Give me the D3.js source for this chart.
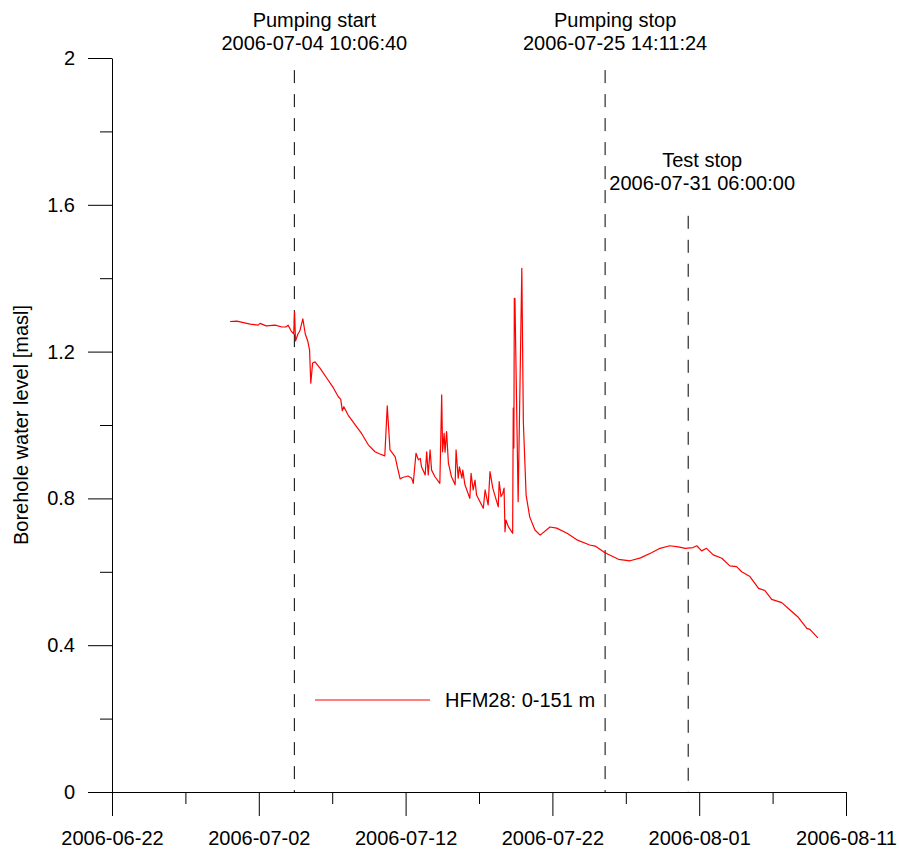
<!DOCTYPE html>
<html>
  <head>
    <title>HFM28 borehole water level</title>
    <script src="https://d3js.org/d3.v7.min.js" charset="utf-8"></script>
    <style type="text/css">
      body { margin: 0; background: #fff; }
      svg text { font-family: "Liberation Sans", Arial, sans-serif; font-size: 20px; fill: #000; }
    </style>
  </head>
  <body>
    <script type="text/javascript">

      var obsTime = [
        "2006-06-30 01:00","2006-06-30 12:00","2006-07-01 10:00","2006-07-01 23:00","2006-07-02 02:00",
        "2006-07-02 12:00","2006-07-03 02:30","2006-07-03 14:00","2006-07-03 20:00","2006-07-04 00:00",
        "2006-07-04 05:00","2006-07-04 09:00","2006-07-04 10:30","2006-07-04 12:00","2006-07-04 16:00",
        "2006-07-04 19:00","2006-07-05 00:00","2006-07-05 04:00","2006-07-05 08:00","2006-07-05 11:00",
        "2006-07-05 13:00","2006-07-05 16:00","2006-07-05 20:00","2006-07-06 04:00","2006-07-06 15:00",
        "2006-07-07 02:00","2006-07-07 10:00","2006-07-07 14:00","2006-07-07 16:30","2006-07-07 19:00",
        "2006-07-08 02:00","2006-07-08 16:00","2006-07-09 00:00","2006-07-09 11:00","2006-07-09 22:00",
        "2006-07-10 06:00","2006-07-10 14:00","2006-07-10 18:00","2006-07-10 22:30","2006-07-11 07:00",
        "2006-07-11 10:30","2006-07-11 15:00","2006-07-11 19:00","2006-07-12 04:00","2006-07-12 10:00",
        "2006-07-12 12:30","2006-07-12 17:00","2006-07-12 21:00","2006-07-13 00:00","2006-07-13 02:00",
        "2006-07-13 08:00","2006-07-13 10:30","2006-07-13 13:00","2006-07-13 16:00","2006-07-13 18:30",
        "2006-07-14 00:00","2006-07-14 08:00","2006-07-14 11:00","2006-07-14 12:30","2006-07-14 15:00",
        "2006-07-14 16:30","2006-07-14 19:00","2006-07-14 22:00","2006-07-15 03:00","2006-07-15 09:00",
        "2006-07-15 10:30","2006-07-15 14:00","2006-07-15 16:00","2006-07-15 20:00","2006-07-15 21:30",
        "2006-07-16 01:00","2006-07-16 09:00","2006-07-16 11:00","2006-07-16 14:30","2006-07-16 17:30",
        "2006-07-16 20:00","2006-07-17 07:00","2006-07-17 10:00","2006-07-17 15:00","2006-07-17 18:00",
        "2006-07-17 22:30","2006-07-18 07:30","2006-07-18 09:00","2006-07-18 12:00","2006-07-18 15:00",
        "2006-07-18 17:00","2006-07-18 18:30","2006-07-18 20:00","2006-07-19 00:00","2006-07-19 07:00",
        "2006-07-19 08:00","2006-07-19 09:00","2006-07-19 09:45","2006-07-19 10:45","2006-07-19 16:00",
        "2006-07-19 22:00","2006-07-20 00:30","2006-07-20 05:00","2006-07-20 11:00","2006-07-20 19:30",
        "2006-07-21 04:00","2006-07-21 20:00","2006-07-22 07:00","2006-07-23 00:00","2006-07-23 16:00",
        "2006-07-24 13:00","2006-07-24 22:00","2006-07-25 11:00","2006-07-25 19:00","2006-07-26 12:00",
        "2006-07-27 07:00","2006-07-28 00:00","2006-07-28 18:00","2006-07-29 08:00","2006-07-30 00:00",
        "2006-07-30 14:00","2006-07-31 01:00","2006-07-31 14:00","2006-07-31 20:00","2006-08-01 04:00",
        "2006-08-01 12:00","2006-08-01 23:00","2006-08-02 13:00","2006-08-03 02:00","2006-08-03 13:00",
        "2006-08-03 21:30","2006-08-04 11:00","2006-08-05 01:00","2006-08-05 11:30","2006-08-05 22:30",
        "2006-08-06 15:00","2006-08-07 04:30","2006-08-07 18:00","2006-08-08 08:00","2006-08-08 13:00",
        "2006-08-09 02:00"
      ];
      var obsLevel = [
        1.282,1.283,1.275,1.272,1.277,
        1.270,1.272,1.267,1.267,1.272,
        1.256,1.248,1.308,1.229,1.248,
        1.256,1.289,1.248,1.229,1.204,
        1.114,1.169,1.172,1.155,1.128,
        1.101,1.077,1.070,1.039,1.050,
        1.027,0.995,0.977,0.946,0.927,
        0.921,0.916,1.052,0.932,0.913,
        0.886,0.853,0.857,0.861,0.855,
        0.841,0.923,0.905,0.909,0.886,
        0.864,0.927,0.864,0.932,0.877,
        0.859,0.841,1.082,0.927,0.977,
        0.926,0.982,0.896,0.859,0.837,
        0.932,0.855,0.886,0.855,0.877,
        0.837,0.800,0.868,0.823,0.850,
        0.809,0.773,0.823,0.782,0.873,
        0.828,0.777,0.846,0.805,0.814,
        0.828,0.709,0.741,0.723,0.705,
        1.046,0.937,1.345,1.345,0.791,
        1.427,1.009,0.809,0.749,0.714,
        0.700,0.722,0.719,0.705,0.687,
        0.673,0.670,0.655,0.648,0.634,
        0.630,0.638,0.652,0.664,0.671,
        0.668,0.664,0.666,0.671,0.657,
        0.664,0.646,0.637,0.616,0.614,
        0.600,0.587,0.555,0.549,0.525,
        0.516,0.496,0.476,0.446,0.443,
        0.420
      ];

      // Events marked with dashed lines
      var eventTime  = ["2006-07-04 10:06:40", "2006-07-25 14:11:24", "2006-07-31 06:00:00"];
      var eventName  = ["Pumping start", "Pumping stop", "Test stop"];
      var eventTop   = [1.967, 1.967, 1.57];  // top of the dashed line, masl
      var eventLabelY = [27, 27, 167];       // baseline of the first label line
      var eventLabelDx = [20, 10, 14];

      // Axis ticks
      var xMajorTicks = ["2006-06-22", "2006-07-02", "2006-07-12", "2006-07-22", "2006-08-01", "2006-08-11"];
      var xMinorTicks = ["2006-06-27", "2006-07-07", "2006-07-17", "2006-07-27", "2006-08-06"];
      var yMajorTicks = [0, 0.4, 0.8, 1.2, 1.6, 2];
      var yMinorTicks = [0.2, 0.6, 1.0, 1.4, 1.8];

      var seriesName = "HFM28: 0-151 m";

      // Setup size
      var width = 899;
      var height = 852;
      var margin = {left: 112, right: 53, top: 58, bottom: 60};

      var parseMin = d3.utcParse("%Y-%m-%d %H:%M");
      var parseSec = d3.utcParse("%Y-%m-%d %H:%M:%S");
      var parseDay = d3.utcParse("%Y-%m-%d");

      var data = obsTime.map(function(t, i) {
        return {time: parseMin(t), level: obsLevel[i]};
      });

      var svg = d3.select("body")
          .append("svg")
          .attr("width", width)
          .attr("height", height);

      var x = d3.scaleUtc()
          .domain([parseDay(xMajorTicks[0]), parseDay(xMajorTicks[xMajorTicks.length - 1])])
          .range([margin.left, width - margin.right]);

      var y = d3.scaleLinear()
          .domain([0, 2])
          .range([height - margin.bottom, margin.top]);

      // Minor ticks first (no labels)
      svg.append("g")
          .attr("transform", "translate(0," + y(0) + ")")
          .call(d3.axisBottom(x).tickValues(xMinorTicks.map(parseDay)).tickSize(12).tickSizeOuter(0).tickFormat(""))
          .call(function(g) { g.select(".domain").remove(); });

      svg.append("g")
          .attr("transform", "translate(" + x.range()[0] + ",0)")
          .call(d3.axisLeft(y).tickValues(yMinorTicks).tickSize(12).tickSizeOuter(0).tickFormat(""))
          .call(function(g) { g.select(".domain").remove(); });

      // Major axes
      var xAxis = svg.append("g")
          .attr("transform", "translate(0," + y(0) + ")")
          .call(d3.axisBottom(x)
              .tickValues(xMajorTicks.map(parseDay))
              .tickSize(24)
              .tickSizeOuter(0)
              .tickPadding(15)
              .tickFormat(d3.utcFormat("%Y-%m-%d")));

      var yAxis = svg.append("g")
          .attr("transform", "translate(" + x.range()[0] + ",0)")
          .call(d3.axisLeft(y)
              .tickValues(yMajorTicks)
              .tickSize(24)
              .tickSizeOuter(0)
              .tickPadding(13)
              .tickFormat(d3.format("")));

      svg.selectAll(".tick text").attr("font-family", null).attr("font-size", null);
      svg.selectAll(".domain, .tick line").attr("stroke", "#000");

      // Y axis title
      svg.append("text")
          .attr("transform", "translate(28," + (y(0) + y(2)) / 2 + ") rotate(-90)")
          .attr("text-anchor", "middle")
          .text("Borehole water level [masl]");

      // Event lines and labels
      eventTime.forEach(function(t, i) {
        var ex = x(parseSec(t));
        svg.append("line")
            .attr("x1", ex).attr("x2", ex)
            .attr("y1", y(eventTop[i])).attr("y2", y(0))
            .attr("stroke", "#000")
            .attr("stroke-width", 1)
            .attr("stroke-dasharray", "13,11");

        var lbl = svg.append("text")
            .attr("text-anchor", "middle")
            .attr("x", ex + eventLabelDx[i])
            .attr("y", eventLabelY[i]);
        lbl.append("tspan").attr("x", ex + eventLabelDx[i]).text(eventName[i]);
        lbl.append("tspan").attr("x", ex + eventLabelDx[i]).attr("dy", 23).text(t);
      });

      // The series
      var line = d3.line()
          .x(function(d) { return x(d.time); })
          .y(function(d) { return y(d.level); });

      svg.append("path")
          .datum(data)
          .attr("fill", "none")
          .attr("stroke", "#ff0000")
          .attr("stroke-width", 1.2)
          .attr("stroke-linejoin", "round")
          .attr("d", line);

      // Legend
      svg.append("line")
          .attr("x1", 315).attr("x2", 430)
          .attr("y1", 700).attr("y2", 700)
          .attr("stroke", "#ff0000")
          .attr("stroke-width", 1.2);

      svg.append("text")
          .attr("x", 445)
          .attr("y", 707)
          .text(seriesName);

    </script>
  </body>
</html>
